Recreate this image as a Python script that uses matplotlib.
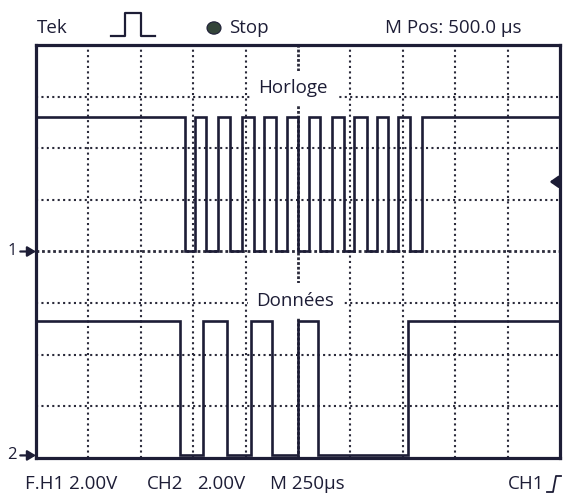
import matplotlib

matplotlib.use("Agg")

import matplotlib.pyplot as plt
import numpy as np
from matplotlib.lines import Line2D
from matplotlib.patches import Circle

plt.rcParams["font.family"] = ["Open Sans", "DejaVu Sans"]

# scope settings
TIME_PER_DIV = 250.0   # us / div
VOLTS_PER_DIV = 2.0    # V / div (both channels)
N_XDIV, N_YDIV = 10, 8

# channel 1 : "Horloge" (clock), starts high, toggles at each edge (us)
CH1_EDGES = [711, 758, 811, 867, 925, 981, 1040, 1089, 1145, 1196, 1251,
             1302, 1355, 1414, 1471, 1518, 1578, 1625, 1681, 1728, 1784, 1840]
CH1_HIGH_V = 5.2
CH1_GROUND_DIV = 0.0

# channel 2 : "Données" (data), starts high
CH2_EDGES = [687, 795, 910, 1024, 1124, 1248, 1344, 1773]
CH2_HIGH_V = 5.2
CH2_GROUND_DIV = -3.95

TRIG_LEVEL_V = 2.7

INK = "#1d1d36"
GRID = "#2a2a3a"


def square_wave(edges, high_v, ground_div):
    t = np.array([0.0] + list(edges) + [TIME_PER_DIV * N_XDIV])
    levels = np.array([high_v if i % 2 == 0 else 0.0 for i in range(len(t))])
    levels[-1] = levels[-2]
    return t / TIME_PER_DIV, ground_div + levels / VOLTS_PER_DIV


W, H = 563, 495
fig = plt.figure(figsize=(W / 100, H / 100), dpi=100)
ax = fig.add_axes([36 / W, 1 - 458 / H, 524 / W, 413 / H])
ax.set_xlim(0, N_XDIV)
ax.set_ylim(-N_YDIV / 2, N_YDIV / 2)
ax.set_xticks([])
ax.set_yticks([])
for sp in ax.spines.values():
    sp.set_linewidth(2.3)
    sp.set_color(INK)

# graticule
dots = dict(color=GRID, linewidth=1.5, linestyle=(0, (1, 1.6)), zorder=1)
for i in range(1, N_XDIV):
    if i == N_XDIV // 2:
        ax.axvline(i, color=GRID, linewidth=2.0, linestyle=(0, (1, 0.7)), zorder=1)
    else:
        ax.axvline(i, **dots)
for j in range(1, N_YDIV):
    y = j - N_YDIV / 2
    if y == 0:
        ax.axhline(y, color=GRID, linewidth=2.0, linestyle=(0, (1, 1.0)), zorder=1)
    else:
        ax.axhline(y, **dots)

# traces
x1, y1 = square_wave(CH1_EDGES, CH1_HIGH_V, CH1_GROUND_DIV)
x2, y2 = square_wave(CH2_EDGES, CH2_HIGH_V, CH2_GROUND_DIV)
ax.plot(x1, y1, drawstyle="steps-post", color=INK, linewidth=1.9, zorder=3,
        solid_joinstyle="miter")
ax.plot(x2, y2, drawstyle="steps-post", color=INK, linewidth=1.9, zorder=3,
        solid_joinstyle="miter")

# trace labels
box = dict(boxstyle="square,pad=0.45", facecolor="white", edgecolor="none")
ax.text(4.9, 3.16, "Horloge", ha="center", va="center", fontsize=13.5,
        color=INK, bbox=box, zorder=4)
ax.text(4.95, -0.95, "Données", ha="center", va="center", fontsize=13.5,
        color=INK, bbox=box, zorder=4)

# ground markers
arrow = dict(arrowstyle="-|>,head_length=0.5,head_width=0.3", color=INK,
             linewidth=1.6, shrinkA=0, shrinkB=0)
for label, gnd in (("1", CH1_GROUND_DIV), ("2", CH2_GROUND_DIV)):
    ax.annotate("", xy=(0, gnd), xytext=(-0.3, gnd), arrowprops=arrow,
                annotation_clip=False)
    ax.text(-0.37, gnd, label, ha="right", va="center", fontsize=12,
            color=INK, clip_on=False)

# trigger level marker
trig = CH1_GROUND_DIV + TRIG_LEVEL_V / VOLTS_PER_DIV
ax.annotate("", xy=(9.8, trig), xytext=(10.0, trig),
            arrowprops=dict(arrowstyle="-|>,head_length=0.5,head_width=0.35",
                            color=INK, linewidth=2, shrinkA=0, shrinkB=0))

# header
top = 1 - 28 / H
fig.text(37 / W, top, "Tek", ha="left", va="center", fontsize=13.5, color=INK)
px = np.array([111, 125, 125, 141, 141, 155]) / W
py = 1 - np.array([36, 36, 13, 13, 36, 36]) / H
fig.add_artist(Line2D(px, py, transform=fig.transFigure, color=INK, linewidth=1.6))
fig.add_artist(Circle((214 / W, top), 7 / W, transform=fig.transFigure,
                      facecolor="#34453a", edgecolor=INK, linewidth=0.8))
fig.text(229 / W, top, "Stop", ha="left", va="center", fontsize=13.5, color=INK)
fig.text(385 / W, top, "M Pos: 500.0 µs", ha="left", va="center",
         fontsize=13.5, color=INK)

# footer
bot = 1 - 484 / H
fig.text(25 / W, bot, "F.H1 2.00V", ha="left", va="center", fontsize=13.5, color=INK)
fig.text(147 / W, bot, "CH2", ha="left", va="center", fontsize=13.5, color=INK)
fig.text(197 / W, bot, "2.00V", ha="left", va="center", fontsize=13.5, color=INK)
fig.text(270 / W, bot, "M 250µs", ha="left", va="center", fontsize=13.5, color=INK)
fig.text(508 / W, bot, "CH1", ha="left", va="center", fontsize=13.5, color=INK)
tx = np.array([547, 553, 556, 561]) / W
ty = 1 - np.array([492, 492, 476, 476]) / H
fig.add_artist(Line2D(tx, ty, transform=fig.transFigure, color=INK, linewidth=1.3))

fig.savefig("out.png", dpi=100)
